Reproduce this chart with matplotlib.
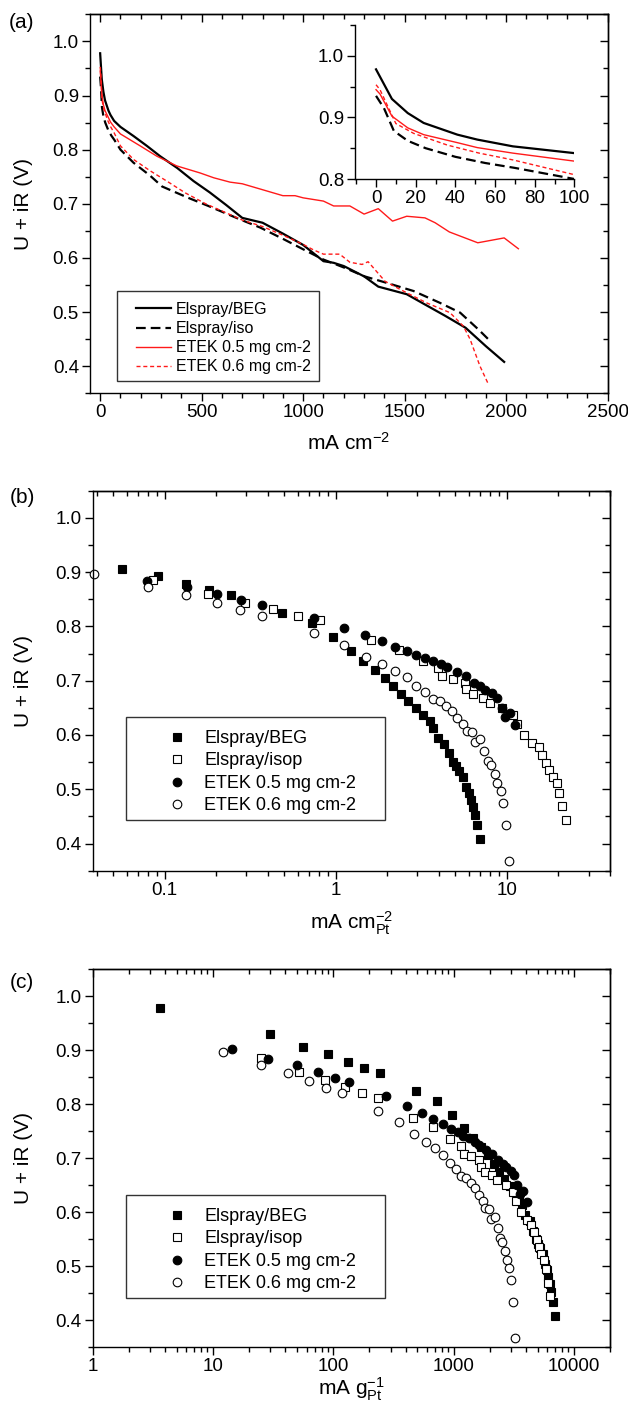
import numpy as np
import matplotlib
matplotlib.use("Agg")
import matplotlib.pyplot as plt
from matplotlib.ticker import MultipleLocator, LogLocator, NullFormatter, FuncFormatter
from matplotlib.patches import Rectangle

plt.rcParams.update({
    "font.family": ["Liberation Sans", "DejaVu Sans"],
    "mathtext.fontset": "custom",
    "mathtext.rm": "Liberation Sans",
    "mathtext.it": "Liberation Sans:italic",
    "mathtext.bf": "Liberation Sans:bold",
    "lines.scale_dashes": False,
    "axes.linewidth": 1.0,
})

# ---------------- data: panel (a) ----------------
beg_a_x = [0, 8, 16, 24, 41, 51, 69, 100, 165, 230, 295, 380, 460, 540, 620, 700, 800, 900, 1000,
           1050, 1100, 1150, 1200, 1300, 1370, 1450, 1510, 1600, 1700, 1800, 1900, 1990]
beg_a_y = [0.978, 0.930, 0.907, 0.891, 0.872, 0.864, 0.853, 0.842, 0.825, 0.807, 0.788, 0.766, 0.742,
           0.721, 0.698, 0.674, 0.665, 0.645, 0.624, 0.609, 0.594, 0.591, 0.585, 0.566, 0.547, 0.539,
           0.533, 0.514, 0.493, 0.471, 0.437, 0.408]
iso_a_x = [0, 4, 9, 16, 25, 40, 55, 70, 85, 100, 164, 246, 305, 434, 533, 690, 789, 907, 1005, 1100,
           1203, 1302, 1411, 1543, 1674, 1773, 1863, 1925]
iso_a_y = [0.935, 0.915, 0.878, 0.862, 0.850, 0.836, 0.826, 0.818, 0.809, 0.800, 0.776, 0.752, 0.732,
           0.711, 0.696, 0.671, 0.656, 0.634, 0.615, 0.597, 0.582, 0.566, 0.554, 0.539, 0.517, 0.499,
           0.468, 0.445]
e05_a_x = [0, 2, 8, 16, 24, 41, 51, 69, 100, 197, 279, 377, 492, 560, 640, 700, 800, 900, 960, 1000,
           1100, 1150, 1230, 1300, 1370, 1440, 1510, 1600, 1650, 1720, 1860, 1990, 2060]
e05_a_y = [0.945, 0.938, 0.902, 0.883, 0.872, 0.859, 0.851, 0.842, 0.829, 0.807, 0.788, 0.770, 0.757,
           0.748, 0.740, 0.737, 0.726, 0.715, 0.715, 0.711, 0.705, 0.696, 0.696, 0.681, 0.691, 0.668,
           0.677, 0.674, 0.665, 0.648, 0.628, 0.637, 0.617]
e06_a_x = [0, 2, 10, 19, 36, 52, 69, 100, 164, 246, 328, 420, 520, 610, 700, 800, 900, 1000, 1050,
           1100, 1180, 1230, 1290, 1320, 1403, 1477, 1608, 1723, 1789, 1822, 1871, 1912]
e06_a_y = [0.953, 0.945, 0.890, 0.874, 0.855, 0.842, 0.831, 0.807, 0.782, 0.761, 0.742, 0.720, 0.700,
           0.685, 0.670, 0.658, 0.642, 0.625, 0.615, 0.607, 0.607, 0.592, 0.588, 0.593, 0.557, 0.542,
           0.517, 0.499, 0.474, 0.450, 0.400, 0.367]

# ---------------- data: panel (b) ----------------
beg_b_x = [0.056, 0.091, 0.133, 0.181, 0.244, 0.483, 0.722, 0.966, 1.22, 1.44, 1.69, 1.94, 2.17, 2.40,
           2.65, 2.96, 3.23, 3.53, 3.69, 3.94, 4.31, 4.6, 4.83, 5.03, 5.28, 5.52, 5.76, 5.98, 6.15,
           6.31, 6.49, 6.66, 6.96]
beg_b_y = [0.906, 0.892, 0.878, 0.867, 0.857, 0.825, 0.806, 0.780, 0.755, 0.737, 0.720, 0.705, 0.690,
           0.675, 0.662, 0.649, 0.637, 0.625, 0.613, 0.594, 0.583, 0.566, 0.551, 0.542, 0.533, 0.523,
           0.505, 0.493, 0.480, 0.468, 0.453, 0.434, 0.408]
iso_b_x = [0.086, 0.179, 0.293, 0.43, 0.60, 0.806, 1.6, 2.33, 3.22, 3.95, 4.2, 4.82, 5.65, 5.8, 6.3,
           7.2, 8.0, 9.4, 10.8, 11.5, 12.5, 14.1, 15.3, 16.1, 16.9, 17.7, 18.5, 19.5, 20.2, 20.9, 22.0]
iso_b_y = [0.886, 0.860, 0.844, 0.832, 0.820, 0.811, 0.775, 0.757, 0.736, 0.723, 0.708, 0.704, 0.696,
           0.684, 0.675, 0.668, 0.659, 0.650, 0.637, 0.620, 0.600, 0.585, 0.577, 0.563, 0.548, 0.536,
           0.523, 0.512, 0.494, 0.469, 0.444]
e05_b_x = [0.079, 0.136, 0.203, 0.281, 0.373, 0.746, 1.12, 1.49, 1.86, 2.22, 2.59, 2.96, 3.30, 3.69,
           4.12, 4.49, 5.13, 5.74, 6.41, 7.0, 7.47, 8.17, 8.7, 9.3, 9.7, 10.4, 11.1]
e05_b_y = [0.884, 0.872, 0.859, 0.849, 0.840, 0.815, 0.797, 0.784, 0.773, 0.763, 0.754, 0.748, 0.741,
           0.737, 0.730, 0.725, 0.716, 0.708, 0.696, 0.690, 0.683, 0.677, 0.668, 0.650, 0.633, 0.640,
           0.619]
e06_b_x = [0.0385, 0.080, 0.134, 0.201, 0.277, 0.373, 0.746, 1.12, 1.50, 1.86, 2.22, 2.62, 2.96, 3.30,
           3.69, 4.07, 4.4, 4.8, 5.13, 5.55, 5.85, 6.27, 6.55, 7.0, 7.39, 7.74, 8.1, 8.5, 8.8, 9.2, 9.5,
           9.9, 10.3]
e06_b_y = [0.896, 0.872, 0.857, 0.843, 0.830, 0.820, 0.788, 0.766, 0.744, 0.730, 0.718, 0.706, 0.691,
           0.679, 0.667, 0.663, 0.654, 0.645, 0.632, 0.620, 0.608, 0.606, 0.588, 0.592, 0.571, 0.552,
           0.544, 0.528, 0.511, 0.497, 0.474, 0.434, 0.367]

# ---------------- data: panel (c) ----------------
beg_c_x = [3.64, 29.6, 56, 91, 133, 181, 244, 483, 722, 966, 1220, 1440, 1690, 1940, 2170, 2400, 2650,
           2960, 3230, 3530, 3690, 3940, 4310, 4600, 4830, 5030, 5280, 5520, 5760, 5980, 6150, 6310,
           6490, 6660, 6960]
beg_c_y = [0.978, 0.929, 0.906, 0.892, 0.878, 0.867, 0.857, 0.825, 0.806, 0.780, 0.755, 0.737, 0.720,
           0.705, 0.690, 0.675, 0.662, 0.649, 0.637, 0.625, 0.613, 0.594, 0.583, 0.566, 0.551, 0.542,
           0.533, 0.523, 0.505, 0.493, 0.480, 0.468, 0.453, 0.434, 0.408]
iso_c_x = [24.9, 51.9, 85, 125, 174, 234, 464, 676, 934, 1146, 1218, 1398, 1639, 1682, 1827, 2088,
           2320, 2726, 3132, 3335, 3625, 4089, 4437, 4669, 4901, 5133, 5365, 5655, 5858, 6061, 6380]
iso_c_y = [0.886, 0.860, 0.844, 0.832, 0.820, 0.811, 0.775, 0.757, 0.736, 0.723, 0.708, 0.704, 0.696,
           0.684, 0.675, 0.668, 0.659, 0.650, 0.637, 0.620, 0.600, 0.585, 0.577, 0.563, 0.548, 0.536,
           0.523, 0.512, 0.494, 0.469, 0.444]
e05_c_x = [14.5, 28.8, 49.6, 74.1, 102.6, 136, 272, 409, 544, 679, 810, 945, 1080, 1205, 1347, 1504,
           1639, 1872, 2095, 2340, 2555, 2727, 2982, 3176, 3395, 3540, 3796, 4052]
e05_c_y = [0.902, 0.884, 0.872, 0.859, 0.849, 0.840, 0.815, 0.797, 0.784, 0.773, 0.763, 0.754, 0.748,
           0.741, 0.737, 0.730, 0.725, 0.716, 0.708, 0.696, 0.690, 0.683, 0.677, 0.668, 0.650, 0.633,
           0.640, 0.619]
e06_c_x = [12.1, 25.2, 42.2, 63.3, 87.3, 117.5, 235, 353, 473, 586, 699, 825, 932, 1040, 1162, 1282,
           1386, 1512, 1616, 1748, 1843, 1975, 2063, 2205, 2328, 2438, 2552, 2678, 2772, 2898, 2993,
           3119, 3245]
e06_c_y = [0.896, 0.872, 0.857, 0.843, 0.830, 0.820, 0.788, 0.766, 0.744, 0.730, 0.718, 0.706, 0.691,
           0.679, 0.667, 0.663, 0.654, 0.645, 0.632, 0.620, 0.608, 0.606, 0.588, 0.592, 0.571, 0.552,
           0.544, 0.528, 0.511, 0.497, 0.474, 0.434, 0.367]

labels_a = ["Elspray/BEG", "Elspray/iso", "ETEK 0.5 mg cm-2", "ETEK 0.6 mg cm-2"]
labels_bc = ["Elspray/BEG", "Elspray/isop", "ETEK 0.5 mg cm-2", "ETEK 0.6 mg cm-2"]
ylabel = "U + iR (V)"

# ---------------- figure ----------------
W, H = 628, 1413
fig = plt.figure(figsize=(W / 100, H / 100), dpi=100)


def rect(x0, y0, x1, y1):
    """pixel box (top-left origin) -> figure fraction [l, b, w, h]"""
    return [x0 / W, 1 - y1 / H, (x1 - x0) / W, (y1 - y0) / H]


TICK_FS = 13.5
LAB_FS = 15
RED = "#ff1a1a"

line_styles = [
    dict(color="black", lw=1.6, ls="-"),
    dict(color="black", lw=1.6, ls=(0, (7.0, 3.6))),
    dict(color=RED, lw=1.0, ls="-"),
    dict(color=RED, lw=1.0, ls=(0, (2.9, 2.0))),
]
marker_styles = [
    dict(marker="s", ms=5.5, mfc="black", mec="black", mew=0.8, ls="none"),
    dict(marker="s", ms=5.5, mfc="white", mec="black", mew=0.8, ls="none"),
    dict(marker="o", ms=6.2, mfc="black", mec="black", mew=0.8, ls="none"),
    dict(marker="o", ms=6.2, mfc="white", mec="black", mew=0.8, ls="none"),
]


def style_main(ax, log=False, xmaj=None, xmin=None):
    ax.tick_params(which="major", direction="out", length=6, width=1.0, labelsize=TICK_FS, pad=2)
    ax.tick_params(which="minor", direction="out", length=3.5, width=1.0)
    ax.yaxis.set_major_locator(MultipleLocator(0.1))
    ax.yaxis.set_minor_locator(MultipleLocator(0.05))
    ax.yaxis.set_major_formatter(FuncFormatter(lambda v, p: f"{v:.1f}"))
    top = ax.secondary_xaxis("top")
    right = ax.secondary_yaxis("right")
    if log:
        for a in (ax.xaxis, top.xaxis):
            a.set_major_locator(LogLocator(base=10, numticks=20))
            a.set_minor_locator(LogLocator(base=10, subs=np.arange(2, 10), numticks=20))
            a.set_minor_formatter(NullFormatter())
        ax.xaxis.set_major_formatter(FuncFormatter(lambda v, p: f"{v:g}"))
    else:
        for a in (ax.xaxis, top.xaxis):
            a.set_major_locator(MultipleLocator(xmaj))
            a.set_minor_locator(MultipleLocator(xmin))
    right.yaxis.set_major_locator(MultipleLocator(0.1))
    right.yaxis.set_minor_locator(MultipleLocator(0.05))
    top.tick_params(which="major", direction="in", length=6, width=1.0, labeltop=False)
    top.tick_params(which="minor", direction="in", length=3.5, width=1.0, labeltop=False)
    right.tick_params(which="major", direction="in", length=6, width=1.0, labelright=False)
    right.tick_params(which="minor", direction="in", length=3.5, width=1.0, labelright=False)


def legend_box(ax, handles, labels, x_left, y_top, fs, hl, htp, lsp, box):
    leg = ax.legend(handles, labels, loc="upper left", bbox_to_anchor=(x_left / W, 1 - y_top / H),
                    bbox_transform=fig.transFigure, frameon=False, fontsize=fs, handlelength=hl,
                    handletextpad=htp, labelspacing=lsp, borderpad=0, borderaxespad=0)
    x0, y0, x1, y1 = box
    fig.add_artist(Rectangle((x0 / W, 1 - y1 / H), (x1 - x0) / W, (y1 - y0) / H,
                             transform=fig.transFigure, fill=False, lw=1.0, ec="#333333"))
    return leg


YLAB_RIGHT = 33  # pixel x of the right edge of the rotated y label

# ---------- panel (a) ----------
axA = fig.add_axes(rect(90, 14.3, 607.7, 393.3))
series_a = [(beg_a_x, beg_a_y), (iso_a_x, iso_a_y), (e05_a_x, e05_a_y), (e06_a_x, e06_a_y)]
hA = []
for (x, y), st, lab in zip(series_a, line_styles, labels_a):
    hA.append(axA.plot(x, y, label=lab, **st)[0])
axA.set_xlim(-50, 2500)
axA.set_ylim(0.35, 1.05)
style_main(axA, log=False, xmaj=500, xmin=100)
axA.set_xlabel(r"mA cm$^{-2}$", fontsize=LAB_FS)
axA.xaxis.set_label_coords(0.5, (393.3 - 432) / 379)
axA.set_ylabel(ylabel, fontsize=LAB_FS)
axA.yaxis.set_label_coords((YLAB_RIGHT - 90) / 517.7, 0.5)
legend_box(axA, hA, labels_a, 136, 302, 11.5, 2.2, 0.3, 0.26, (116.7, 291, 319, 381))
fig.text(22 / W, 1 - 23 / H, "(a)", fontsize=LAB_FS, ha="center", va="center")

# inset
axI = fig.add_axes(rect(355.2, 25, 574.4, 179))
for (x, y), st in zip(series_a, line_styles):
    axI.plot(x, y, **st)
axI.set_xlim(-10.5, 100)
axI.set_ylim(0.8, 1.05)
axI.spines["top"].set_visible(False)
axI.spines["right"].set_visible(False)
axI.patch.set_alpha(0)
axI.xaxis.set_major_locator(MultipleLocator(20))
axI.xaxis.set_minor_locator(MultipleLocator(10))
axI.yaxis.set_major_locator(MultipleLocator(0.1))
axI.yaxis.set_minor_locator(MultipleLocator(0.05))
axI.yaxis.set_major_formatter(FuncFormatter(lambda v, p: f"{v:.1f}"))
axI.tick_params(which="major", direction="out", length=6, width=1.0, labelsize=TICK_FS, pad=2)
axI.tick_params(which="minor", direction="out", length=3.5, width=1.0)

# ---------- panel (b) ----------
axB = fig.add_axes(rect(92.7, 490.7, 610, 870.7))
series_b = [(beg_b_x, beg_b_y), (iso_b_x, iso_b_y), (e05_b_x, e05_b_y), (e06_b_x, e06_b_y)]
hB = []
for (x, y), st, lab in zip(series_b, marker_styles, labels_bc):
    hB.append(axB.plot(x, y, label=lab, clip_on=False, **st)[0])
axB.set_xscale("log")
axB.set_xlim(0.038, 40)
axB.set_ylim(0.35, 1.05)
style_main(axB, log=True)
axB.set_xlabel(r"mA cm$_{\rm Pt}^{-2}$", fontsize=LAB_FS)
axB.xaxis.set_label_coords(0.5, (870.7 - 910) / 380)
axB.set_ylabel(ylabel, fontsize=LAB_FS)
axB.yaxis.set_label_coords((YLAB_RIGHT - 92.7) / 517.3, 0.5)
legend_box(axB, hB, labels_bc, 163.5, 730, 13, 1.5, 0.75, 0.3, (126, 717, 385, 820))
fig.text(22 / W, 1 - 497 / H, "(b)", fontsize=LAB_FS, ha="center", va="center")

# ---------- panel (c) ----------
axC = fig.add_axes(rect(92.7, 969, 610, 1347.3))
series_c = [(beg_c_x, beg_c_y), (iso_c_x, iso_c_y), (e05_c_x, e05_c_y), (e06_c_x, e06_c_y)]
hC = []
for (x, y), st, lab in zip(series_c, marker_styles, labels_bc):
    hC.append(axC.plot(x, y, label=lab, **st)[0])
axC.set_xscale("log")
axC.set_xlim(1, 20000)
axC.set_ylim(0.35, 1.05)
style_main(axC, log=True)
axC.set_xlabel(r"mA g$_{\rm Pt}^{-1}$", fontsize=LAB_FS)
axC.xaxis.set_label_coords(0.5, (1347.3 - 1376) / 378.3)
axC.set_ylabel(ylabel, fontsize=LAB_FS)
axC.yaxis.set_label_coords((YLAB_RIGHT - 92.7) / 517.3, 0.5)
legend_box(axC, hC, labels_bc, 163.5, 1208, 13, 1.5, 0.75, 0.3, (126, 1195, 385, 1298))
fig.text(22 / W, 1 - 983 / H, "(c)", fontsize=LAB_FS, ha="center", va="center")

fig.savefig("out.png", dpi=100)
